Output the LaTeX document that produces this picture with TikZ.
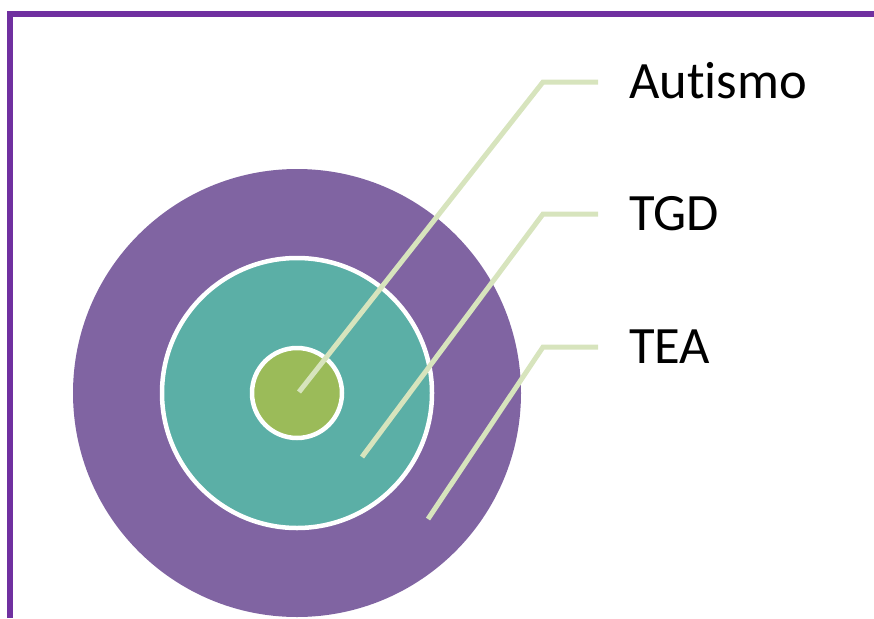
\documentclass[tikz,border=0pt]{standalone}
\usepackage{fontspec}
\setmainfont{Carlito}[Ligatures=NoCommon]
\usetikzlibrary{positioning}

\definecolor{frameviolet}{HTML}{7030A0}
\definecolor{teaviolet}{HTML}{8064A2}
\definecolor{tgdteal}{HTML}{5BAFA6}
\definecolor{autgreen}{HTML}{9BBB59}
\definecolor{leader}{HTML}{D7E4BD}

\tikzset{
  ring/.style={circle, inner sep=0pt},
  leaderline/.style={draw=leader, line width=5pt},
  tag/.style={anchor=west, inner ysep=0pt, inner xsep=0pt,
    font=\fontsize{52.5}{60}\selectfont},
}

\begin{document}
\begin{tikzpicture}[x=1pt, y=-1pt]
  \useasboundingbox (0,0) rectangle (874,618);
  % frame
  \draw[frameviolet, line width=6pt] (10,618) -- (10,14) -- (874,14);
  % nested circles
  \node[ring, fill=teaviolet, minimum size=448pt] (tea) at (297,393) {};
  \node[ring, fill=tgdteal, draw=white, line width=4.5pt, minimum size=270pt] (tgd) at (297,393) {};
  \node[ring, fill=autgreen, draw=white, line width=4.5pt, minimum size=90pt] (aut) at (297,393) {};
  % labels
  \node[tag] (autismo) at (629,81) {Autismo};
  \node[tag] (tgdlabel) at (629,214) {TGD};
  \node[tag] (tealabel) at (629,347) {TEA};
  % leader lines
  \coordinate (p1) at (299,392);
  \coordinate (p2) at (362,457);
  \coordinate (p3) at (428,519);
  \draw[leaderline] (p1) -- (543,82) -- ([xshift=-31pt]autismo.west |- 0,82);
  \draw[leaderline] (p2) -- (543,214) -- ([xshift=-31pt]tgdlabel.west |- 0,214);
  \draw[leaderline] (p3) -- (543,347) -- ([xshift=-31pt]tealabel.west |- 0,347);
\end{tikzpicture}
\end{document}
